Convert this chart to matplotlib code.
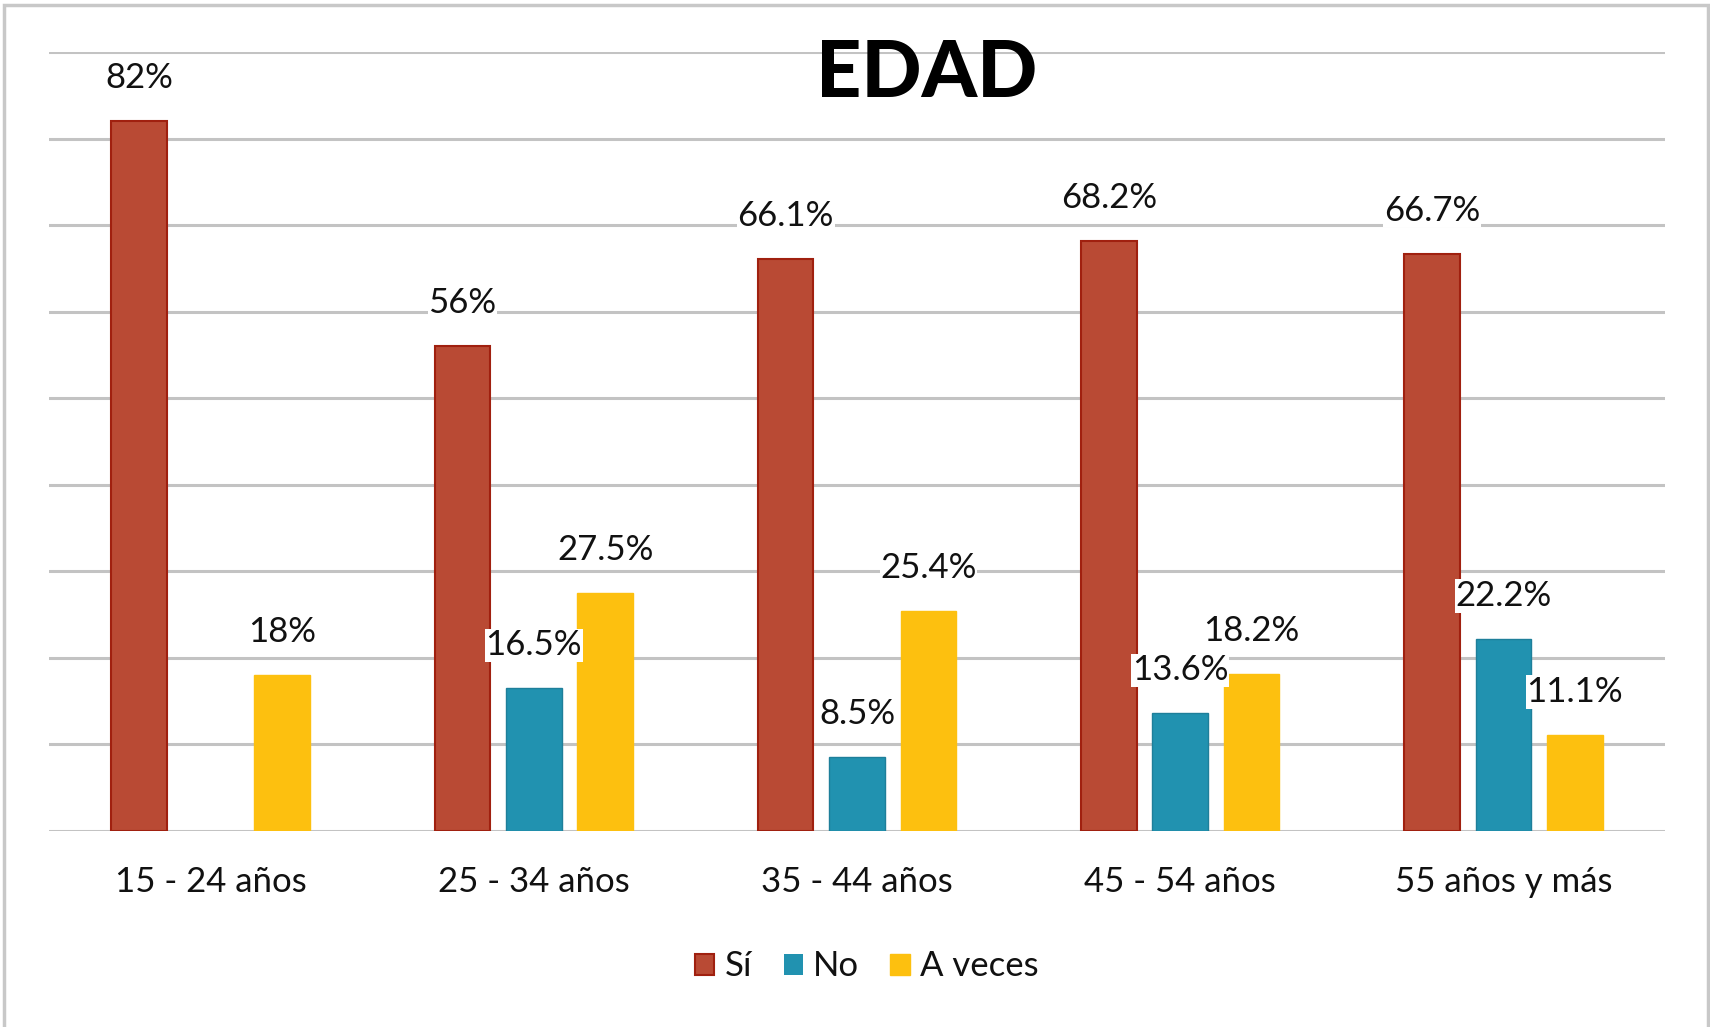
import matplotlib.pyplot as plt
import matplotlib.patches as mpatches
import numpy as np

# Datos
categorias = ['15 - 24 años', '25 - 34 años', '35 - 44 años', '45 - 54 años', '55 años y más']
si = [82, 56, 66.1, 68.2, 66.7]
no = [0, 16.5, 8.5, 13.6, 22.2]
a_veces = [18, 27.5, 25.4, 18.2, 11.1]
etq_si = ['82%', '56%', '66.1%', '68.2%', '66.7%']
etq_no = ['', '16.5%', '8.5%', '13.6%', '22.2%']
etq_av = ['18%', '27.5%', '25.4%', '18.2%', '11.1%']
series = ['Sí', 'No', 'A veces']

plt.rcParams['font.family'] = ['Lato', 'DejaVu Sans']

fig = plt.figure(figsize=(17.1, 10.27), dpi=100)
ax = fig.add_axes([0.0287, 0.1908, 0.9450, 0.7586])

x = np.arange(len(categorias))
ancho = 0.172
sep = 0.221

col_si = '#B94A34'
col_no = '#2192B0'
col_av = '#FDC00F'

b1 = ax.bar(x - sep, si, ancho, color=col_si, edgecolor='#A0200F', linewidth=1.5, zorder=2, label=series[0])
b2 = ax.bar(x, no, ancho, color=col_no, edgecolor='#1E7F9A', linewidth=1.0, zorder=2, label=series[1])
b3 = ax.bar(x + sep, a_veces, ancho, color=col_av, edgecolor=col_av, linewidth=1.0, zorder=2, label=series[2])

# sin borde para barras de altura cero
for b in b2:
    if b.get_height() == 0:
        b.set_linewidth(0)

# Etiquetas de datos
for barras, etqs in [(b1, etq_si), (b2, etq_no), (b3, etq_av)]:
    for b, t in zip(barras, etqs):
        if not t:
            continue
        ax.annotate(t, (b.get_x() + b.get_width() / 2, b.get_height()),
                    xytext=(0, 43), textcoords='offset pixels',
                    ha='center', va='center', fontsize=25, color='#111111',
                    bbox=dict(facecolor='white', edgecolor='none', pad=0.5), zorder=4)

ax.set_xlim(-0.5, len(categorias) - 0.5)
ax.set_ylim(0, 90)
ax.set_yticks(np.arange(0, 91, 10))
ax.yaxis.grid(True, color='#C3C3C3', linewidth=2.2, zorder=0)
ax.set_axisbelow(True)
ax.tick_params(axis='y', left=False, labelleft=False)
ax.tick_params(axis='x', bottom=False, labelsize=25, pad=22, labelcolor='#111111')
ax.set_xticks(x)
ax.set_xticklabels(categorias)
for s in ax.spines.values():
    s.set_visible(False)

# Título
fig.text(0.542, 0.927, 'EDAD', ha='center', va='center', fontsize=57,
         fontweight='black', color='black')

# Leyenda
leg = fig.legend(handles=[b1, b2, b3], labels=series, loc='center',
                 bbox_to_anchor=(0.507, 0.059), ncol=3, frameon=False,
                 fontsize=25, handlelength=0.55, handleheight=0.55,
                 handletextpad=0.3, columnspacing=0.9)
for t in leg.get_texts():
    t.set_color('#111111')

# Borde de la figura
borde = mpatches.Rectangle((4 / 1710, -0.01), 1704 / 1710, 1 - 5 / 1027 + 0.01,
                           transform=fig.transFigure, fill=False,
                           edgecolor='#C8C8C8', linewidth=2.5)
fig.patches.append(borde)

fig.savefig('out.png', dpi=100)
